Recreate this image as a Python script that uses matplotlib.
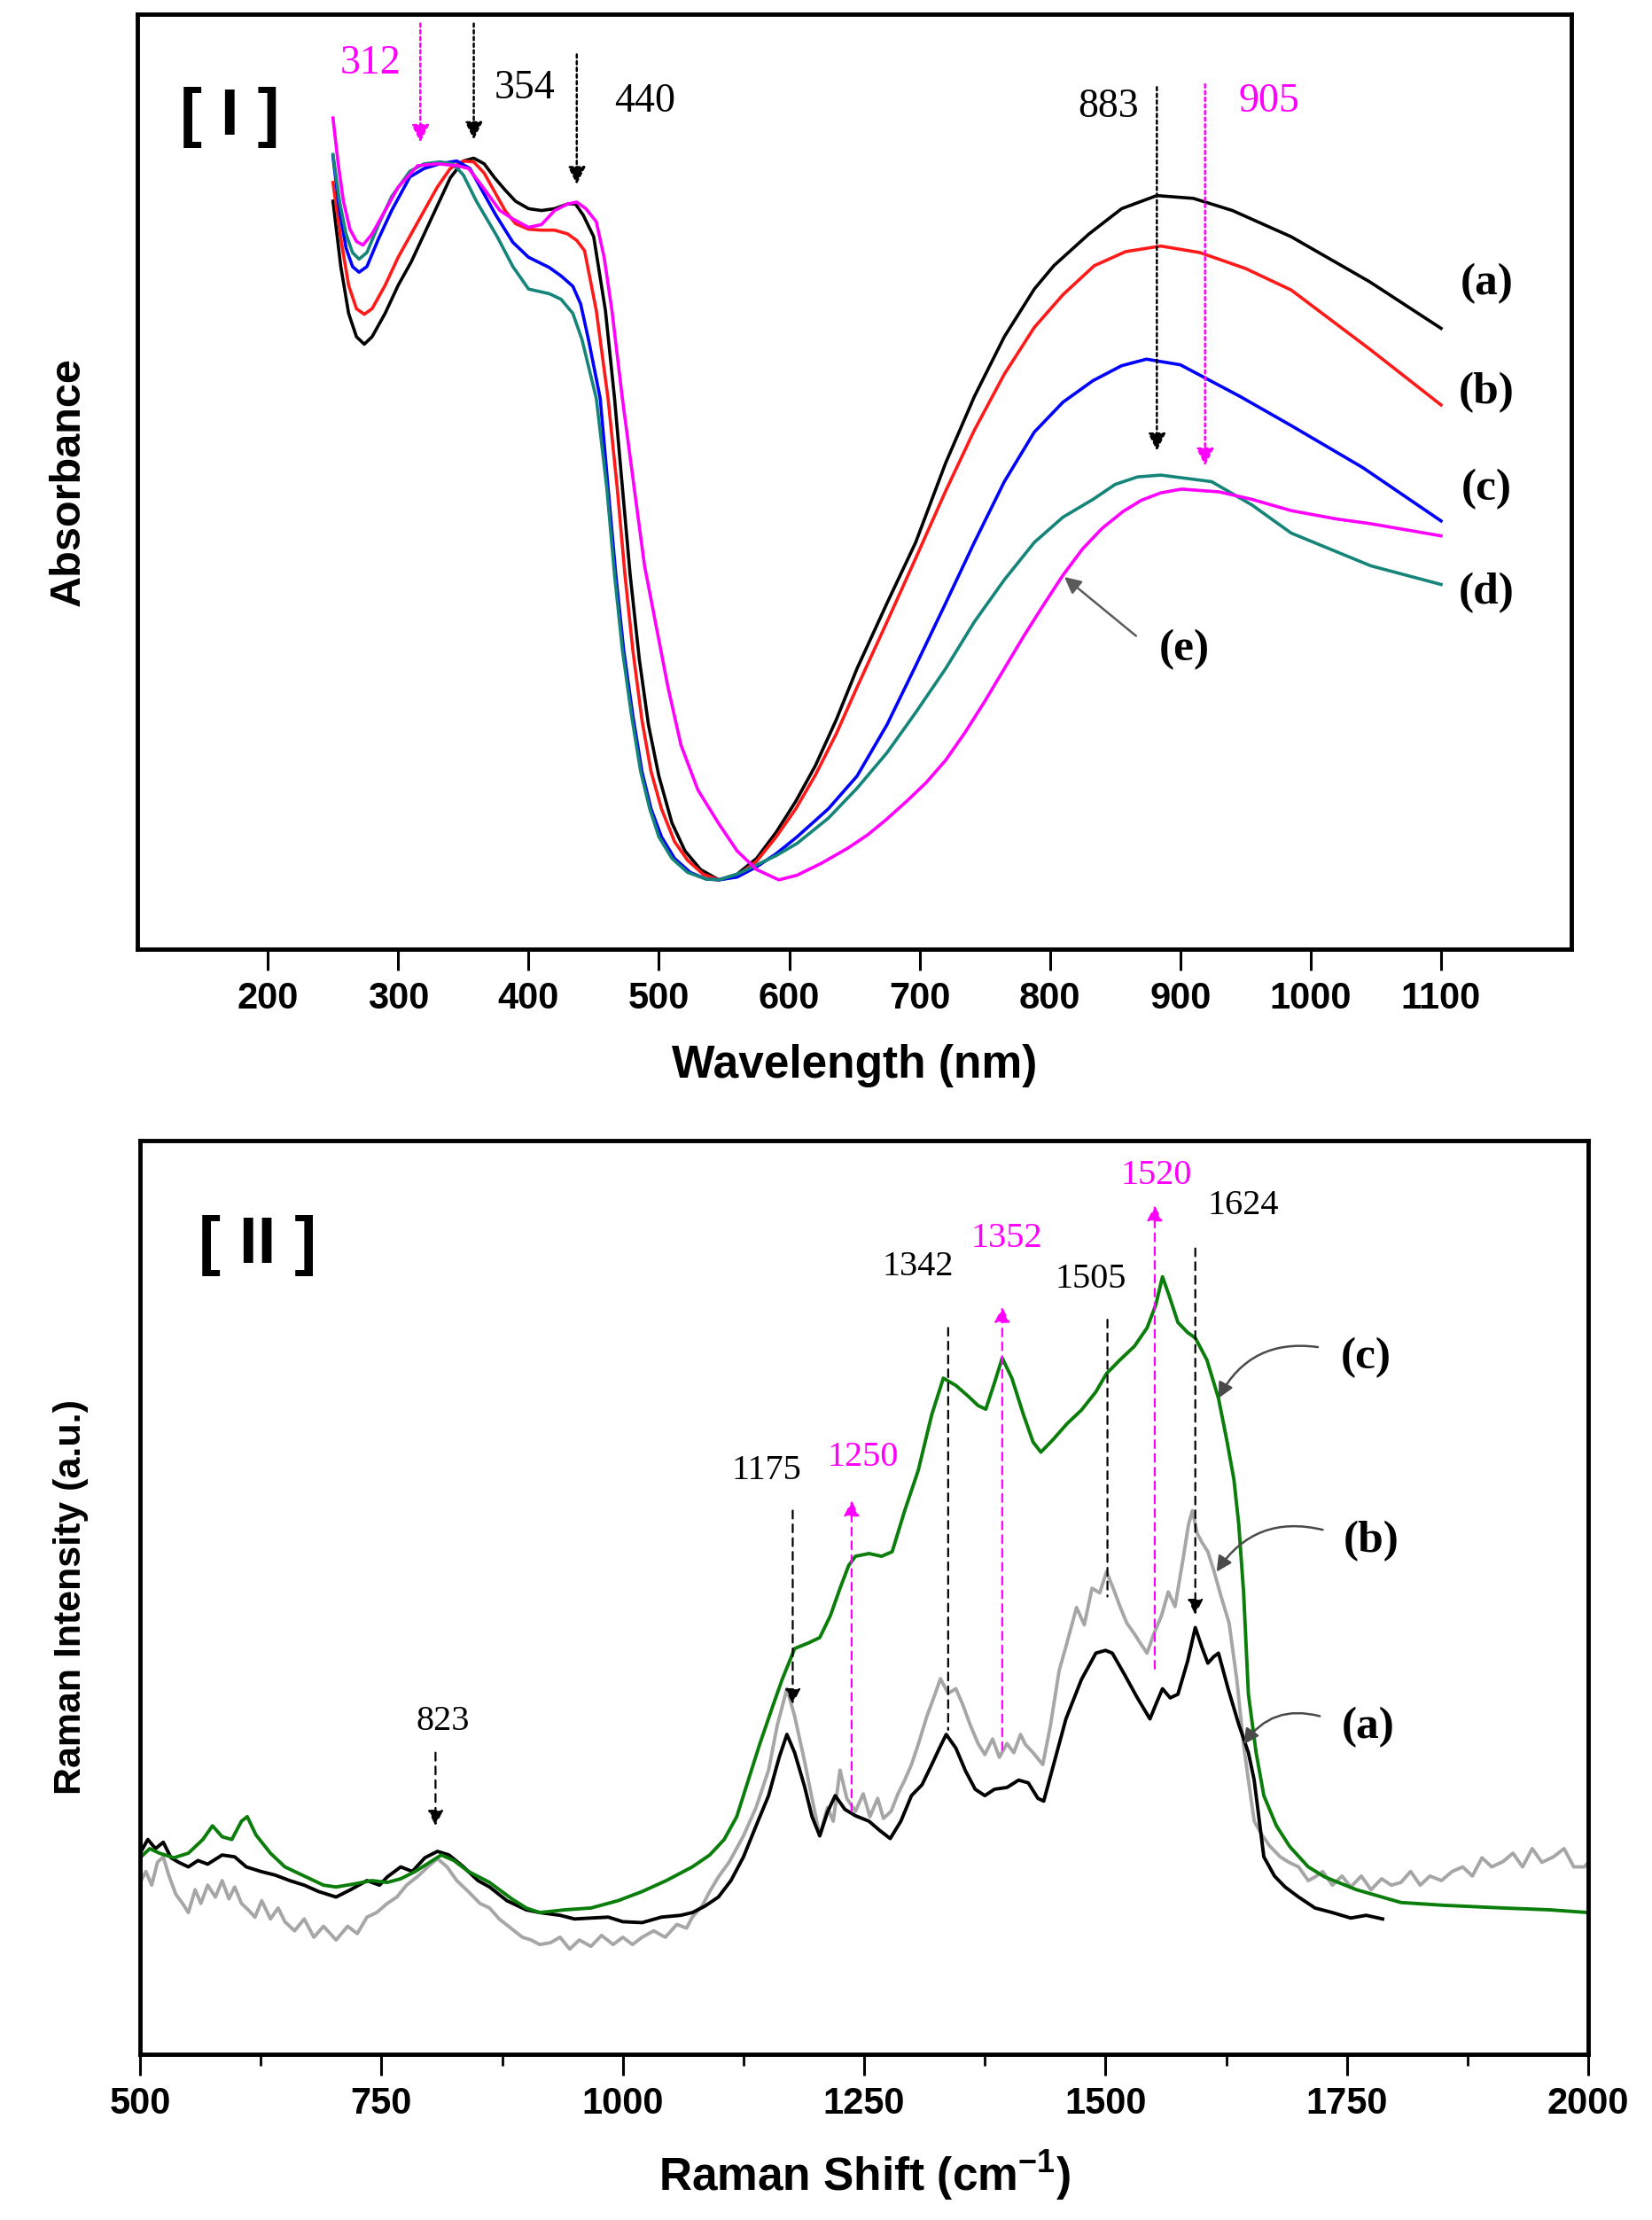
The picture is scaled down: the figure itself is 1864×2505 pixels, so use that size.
import matplotlib
matplotlib.use("Agg")
import matplotlib.pyplot as plt

plt.rcParams['font.family'] = ['Liberation Sans', 'DejaVu Sans']
plt.rcParams['mathtext.fontset'] = 'custom'
plt.rcParams['mathtext.bf'] = 'Liberation Sans:bold'
plt.rcParams['mathtext.rm'] = 'Liberation Sans:bold'

# ---------------- panel I : UV-vis absorbance (a.u.) ----------------
wl_a = [250, 256, 262, 268, 274, 280, 290, 300, 310, 320, 330, 340, 350, 358, 366, 374, 382, 390,
        400, 410, 420, 430, 436, 442, 450, 459, 466, 472, 478, 485, 492, 500, 510, 520, 532,
        546, 560, 575, 590, 605, 620, 636, 652, 675, 697, 720, 742, 765, 788, 803, 830, 855, 882,
        910, 940, 985, 1045, 1100]
abs_a = [0.80, 0.73, 0.68, 0.655, 0.647, 0.655, 0.68, 0.71, 0.735, 0.765, 0.795, 0.825, 0.843, 0.846,
         0.84, 0.825, 0.812, 0.80, 0.792, 0.79, 0.792, 0.797, 0.797, 0.785, 0.762, 0.683, 0.589,
         0.494, 0.40, 0.31, 0.24, 0.185, 0.135, 0.105, 0.085, 0.074, 0.08, 0.097, 0.125, 0.158,
         0.196, 0.245, 0.30, 0.37, 0.435, 0.52, 0.591, 0.655, 0.706, 0.731, 0.765, 0.792, 0.806,
         0.803, 0.79, 0.762, 0.714, 0.664]

wl_b = [250, 256, 262, 268, 274, 280, 290, 300, 310, 320, 330, 340, 350, 358, 366, 374, 382, 390,
        400, 410, 420, 430, 437, 443, 452, 461, 468, 474, 480, 487, 494, 502, 512, 522, 534,
        546, 560, 575, 590, 605, 620, 636, 652, 675, 697, 720, 742, 765, 788, 810, 834, 858, 885,
        915, 950, 985, 1046, 1100]
abs_b = [0.82, 0.76, 0.71, 0.685, 0.679, 0.685, 0.71, 0.74, 0.765, 0.79, 0.815, 0.835, 0.843, 0.842,
         0.83, 0.81, 0.79, 0.776, 0.77, 0.769, 0.769, 0.765, 0.758, 0.747, 0.683, 0.589, 0.494,
         0.40, 0.32, 0.245, 0.19, 0.15, 0.115, 0.095, 0.08, 0.074, 0.078, 0.094, 0.12, 0.15, 0.186,
         0.23, 0.28, 0.35, 0.418, 0.49, 0.555, 0.615, 0.665, 0.70, 0.731, 0.746, 0.752, 0.745,
         0.728, 0.705, 0.641, 0.582]

wl_c = [250, 255, 260, 265, 270, 276, 285, 295, 309, 320, 332, 345, 355, 365, 375, 388, 400, 416,
        425, 434, 440, 446, 455, 461, 467, 473, 480, 487, 494, 502, 512, 524, 536, 546, 560,
        575, 590, 606, 630, 652, 675, 697, 720, 742, 765, 788, 810, 833, 855, 874, 900, 946, 985,
        1040, 1100]
abs_c = [0.848, 0.79, 0.75, 0.73, 0.724, 0.73, 0.76, 0.79, 0.826, 0.835, 0.84, 0.843, 0.835, 0.81,
         0.785, 0.756, 0.74, 0.729, 0.72, 0.709, 0.69, 0.652, 0.589, 0.494, 0.40, 0.32, 0.25,
         0.19, 0.15, 0.12, 0.097, 0.082, 0.075, 0.074, 0.077, 0.088, 0.102, 0.12, 0.15, 0.185,
         0.24, 0.303, 0.37, 0.435, 0.50, 0.553, 0.585, 0.608, 0.624, 0.631, 0.625, 0.591, 0.56,
         0.515, 0.458]

wl_d = [250, 255, 260, 265, 270, 276, 285, 295, 309, 320, 332, 342, 350, 360, 376, 388, 400, 416,
        425, 434, 441, 452, 460, 466, 472, 479, 486, 493, 500, 510, 522, 536, 546, 560,
        575, 590, 606, 630, 652, 675, 697, 720, 742, 765, 788, 810, 833, 850, 867, 885, 924, 955,
        985, 1046, 1100]
abs_d = [0.85, 0.80, 0.765, 0.745, 0.738, 0.745, 0.775, 0.805, 0.832, 0.84, 0.842, 0.84, 0.828, 0.80,
         0.762, 0.73, 0.706, 0.701, 0.695, 0.68, 0.652, 0.589, 0.494, 0.40, 0.32, 0.25, 0.19,
         0.15, 0.12, 0.097, 0.082, 0.075, 0.074, 0.08, 0.09, 0.10, 0.113, 0.14, 0.172, 0.21,
         0.253, 0.30, 0.35, 0.395, 0.435, 0.462, 0.481, 0.497, 0.505, 0.507, 0.50, 0.475, 0.445,
         0.41, 0.39]

wl_e = [250, 254, 258, 263, 268, 273, 280, 290, 300, 315, 330, 345, 354, 365, 378, 388, 400, 410,
        420, 430, 437, 444, 452, 458, 464, 472, 481, 489, 498, 507, 517, 530, 546, 560, 575, 592,
        606, 625, 645, 660, 674, 690, 705, 720, 735, 750, 765, 780, 795, 810, 825, 840, 856, 870,
        885, 901, 930, 955, 985, 1020, 1046, 1075, 1100]
abs_e = [0.889, 0.84, 0.80, 0.77, 0.757, 0.753, 0.765, 0.79, 0.815, 0.838, 0.84, 0.838, 0.835, 0.815,
         0.79, 0.781, 0.772, 0.775, 0.79, 0.797, 0.799, 0.792, 0.778, 0.74, 0.683, 0.589, 0.494,
         0.41, 0.345, 0.28, 0.218, 0.17, 0.134, 0.105, 0.085, 0.074, 0.079, 0.092, 0.108, 0.122,
         0.138, 0.158, 0.178, 0.202, 0.232, 0.265, 0.30, 0.335, 0.368, 0.40, 0.428, 0.45, 0.468,
         0.48, 0.488, 0.492, 0.489, 0.481, 0.469, 0.46, 0.455, 0.448, 0.442]

uv_labels = ['(a)', '(b)', '(c)', '(d)', '(e)']
uv_colors = ['black', '#ff1a1a', '#0000ff', '#15857a', '#ff00ff']

uv_peaks = ['312', '354', '440', '883', '905']
uv_peak_x = [317, 358, 437, 882, 919]

# ---------------- panel II : Raman spectra (a.u.) ----------------
rs_c = [500, 510, 520, 535, 550, 565, 575, 585, 595, 605, 611, 620, 635, 650, 670, 690, 703, 720,
        740, 756, 770, 785, 800, 812, 825, 840, 862, 885, 900, 914, 940, 967, 995, 1020, 1045, 1072,
        1090, 1105, 1118, 1130, 1142, 1155, 1165, 1178, 1192, 1204, 1215, 1225, 1234, 1241, 1255,
        1268, 1279, 1292, 1306, 1320, 1332, 1345, 1358, 1368, 1376, 1385, 1393, 1403, 1415, 1425,
        1433, 1445, 1460, 1475, 1490, 1501, 1515, 1530, 1543, 1552, 1559, 1566, 1575, 1585, 1593,
        1605, 1617, 1626, 1633, 1638, 1643, 1648, 1656, 1664, 1677, 1691, 1710, 1727, 1760, 1806,
        1850, 1912, 1960, 2000]
int_c = [0.215, 0.225, 0.22, 0.215, 0.22, 0.235, 0.25, 0.238, 0.235, 0.255, 0.26, 0.24, 0.22, 0.205,
         0.195, 0.185, 0.183, 0.186, 0.19, 0.188, 0.192, 0.2, 0.21, 0.218, 0.212, 0.2, 0.188, 0.17,
         0.16, 0.155, 0.158, 0.16, 0.168, 0.178, 0.19, 0.205, 0.218, 0.235, 0.26, 0.30, 0.34, 0.38,
         0.41, 0.444, 0.45, 0.456, 0.48, 0.51, 0.535, 0.545, 0.548, 0.545, 0.55, 0.595, 0.639, 0.70,
         0.74, 0.732, 0.72, 0.71, 0.706, 0.735, 0.762, 0.74, 0.70, 0.67, 0.659, 0.672, 0.69, 0.705,
         0.725, 0.745, 0.76, 0.775, 0.795, 0.82, 0.851, 0.83, 0.801, 0.79, 0.784, 0.76, 0.718, 0.67,
         0.629, 0.58, 0.506, 0.394, 0.33, 0.283, 0.25, 0.227, 0.205, 0.194, 0.18, 0.166, 0.163, 0.16,
         0.158, 0.155]

rs_a = [500, 508, 516, 524, 532, 540, 550, 560, 570, 585, 598, 610, 625, 640, 655, 670, 685, 703,
        718, 735, 748, 756, 770, 782, 795, 808, 820, 835, 850, 862, 880, 900, 914, 935, 950, 967,
        985, 1000, 1020, 1040, 1060, 1072, 1085, 1099, 1112, 1125, 1140, 1151, 1162, 1170, 1178,
        1188, 1196, 1204, 1212, 1220, 1230, 1241, 1255, 1266, 1277, 1288, 1299, 1310, 1320, 1328,
        1335, 1345, 1355, 1365, 1375, 1385, 1398, 1410, 1420, 1430, 1436, 1447, 1459, 1475, 1490,
        1500, 1507, 1520, 1533, 1546, 1553, 1559, 1567, 1575, 1585, 1593, 1600, 1606, 1612, 1617,
        1627, 1638, 1648, 1654, 1664, 1675, 1686, 1700, 1717, 1735, 1754, 1770, 1787]
int_a = [0.22, 0.235, 0.225, 0.232, 0.215, 0.21, 0.205, 0.212, 0.208, 0.218, 0.216, 0.205, 0.2,
         0.196, 0.19, 0.185, 0.178, 0.172, 0.18, 0.19, 0.185, 0.194, 0.205, 0.2, 0.215, 0.222, 0.218,
         0.205, 0.19, 0.183, 0.168, 0.158, 0.155, 0.152, 0.148, 0.149, 0.15, 0.145, 0.144, 0.15,
         0.152, 0.155, 0.162, 0.172, 0.19, 0.216, 0.255, 0.283, 0.325, 0.35, 0.33, 0.294, 0.26,
         0.239, 0.265, 0.283, 0.268, 0.261, 0.255, 0.245, 0.236, 0.255, 0.283, 0.295, 0.317, 0.335,
         0.35, 0.335, 0.31, 0.29, 0.283, 0.29, 0.292, 0.30, 0.297, 0.28, 0.277, 0.32, 0.367, 0.41,
         0.439, 0.442, 0.439, 0.415, 0.39, 0.367, 0.385, 0.40, 0.39, 0.394, 0.43, 0.467, 0.445,
         0.428, 0.435, 0.439, 0.40, 0.361, 0.33, 0.30, 0.216, 0.195, 0.183, 0.172, 0.16, 0.155,
         0.149, 0.152, 0.148]

rs_b = [500, 506, 512, 518, 524, 530, 537, 544, 550, 557, 563, 570, 578, 585, 592, 598, 605, 612,
        619, 626, 635, 643, 650, 660, 670, 680, 690, 703, 715, 725, 735, 745, 756, 766, 776, 788,
        798, 808, 818, 828, 840, 852, 862, 872, 884, 896, 905, 914, 925, 935, 945, 955, 967, 978,
        990, 1000, 1010, 1020, 1032, 1044, 1056, 1066, 1072, 1082, 1090, 1099, 1110, 1125, 1138,
        1151, 1160, 1170, 1178, 1188, 1196, 1204, 1212, 1218, 1225, 1232, 1241, 1249, 1256, 1264,
        1270, 1278, 1285, 1292, 1299, 1306, 1315, 1322, 1329, 1337, 1345, 1352, 1360, 1368, 1375,
        1383, 1390, 1398, 1405, 1412, 1417, 1425, 1435, 1443, 1452, 1460, 1470, 1478, 1486, 1494,
        1501, 1508, 1515, 1522, 1530, 1536, 1543, 1550, 1558, 1565, 1572, 1580, 1586, 1590, 1595,
        1600, 1606, 1612, 1620, 1628, 1636, 1643, 1648, 1654, 1662, 1670, 1681, 1690, 1700, 1710,
        1717, 1725, 1735, 1745, 1754, 1765, 1775, 1786, 1796, 1806, 1816, 1826, 1836, 1848, 1859,
        1870, 1880, 1890, 1900, 1912, 1922, 1932, 1942, 1952, 1964, 1975, 1985, 1996, 2000]
int_b = [0.188, 0.2, 0.185, 0.21, 0.216, 0.195, 0.175, 0.165, 0.155, 0.18, 0.165, 0.185, 0.172,
         0.19, 0.17, 0.183, 0.165, 0.158, 0.15, 0.168, 0.148, 0.16, 0.145, 0.135, 0.148, 0.128,
         0.14, 0.125, 0.14, 0.132, 0.15, 0.155, 0.165, 0.172, 0.185, 0.195, 0.205, 0.214, 0.205,
         0.19, 0.178, 0.165, 0.16, 0.148, 0.138, 0.128, 0.125, 0.12, 0.122, 0.128, 0.115, 0.125,
         0.118, 0.13, 0.12, 0.128, 0.12, 0.128, 0.135, 0.128, 0.142, 0.138, 0.15, 0.162, 0.178,
         0.194, 0.21, 0.239, 0.27, 0.311, 0.36, 0.40, 0.37, 0.322, 0.28, 0.239, 0.27, 0.255, 0.311,
         0.28, 0.266, 0.285, 0.26, 0.28, 0.258, 0.266, 0.285, 0.30, 0.317, 0.339, 0.37, 0.39, 0.411,
         0.395, 0.40, 0.383, 0.36, 0.34, 0.328, 0.345, 0.325, 0.34, 0.33, 0.35, 0.339, 0.33, 0.317,
         0.36, 0.42, 0.45, 0.489, 0.47, 0.51, 0.505, 0.528, 0.51, 0.49, 0.472, 0.46, 0.45, 0.439,
         0.46, 0.48, 0.506, 0.49, 0.54, 0.58, 0.595, 0.57, 0.56, 0.55, 0.53, 0.50, 0.472, 0.41,
         0.339, 0.30, 0.255, 0.24, 0.228, 0.216, 0.21, 0.205, 0.19, 0.194, 0.2, 0.185, 0.195, 0.183,
         0.195, 0.18, 0.192, 0.185, 0.188, 0.2, 0.185, 0.195, 0.19, 0.2, 0.205, 0.195, 0.215, 0.205,
         0.211, 0.22, 0.205, 0.225, 0.21, 0.216, 0.225, 0.205, 0.205, 0.21]

raman_labels = ['(a)', '(b)', '(c)']
raman_colors = ['black', '#a6a6a6', '#0a7d0a']

raman_peaks = ['823', '1175', '1250', '1342', '1352', '1505', '1520', '1624']
raman_peak_x = [806, 1176, 1237, 1337, 1393, 1502, 1551, 1593]
raman_peak_new = [False, False, True, False, True, False, True, False]

magenta = '#ff00ff'
serif = ['Liberation Serif', 'DejaVu Serif']

fig = plt.figure(figsize=(18.64, 25.05), dpi=100)


def style_axes(ax):
    for sp in ax.spines.values():
        sp.set_linewidth(3.5)
    ax.tick_params(axis='x', which='major', direction='out', length=17, width=2.2, pad=9,
                   labelsize=30, top=False)
    ax.tick_params(axis='x', which='minor', direction='out', length=9.5, width=2.0, top=False)
    ax.tick_params(axis='y', left=False, right=False, labelleft=False)
    for lab in ax.get_xticklabels():
        lab.set_fontweight('bold')


# ================= panel I =================
ax1 = fig.add_axes([0.0832, 0.5725, 0.868, 0.4211])
uv_x = [wl_a, wl_b, wl_c, wl_d, wl_e]
uv_y = [abs_a, abs_b, abs_c, abs_d, abs_e]
for xs, ys, col in zip(uv_x, uv_y, uv_colors):
    ax1.plot(xs, ys, color=col, lw=2.6, solid_joinstyle='round')
ax1.set_xlim(100, 1200)
ax1.set_ylim(0, 1)
ax1.set_xticks(range(200, 1101, 100))
style_axes(ax1)
ax1.set_xlabel('Wavelength (nm)', fontsize=37, fontweight='bold', labelpad=22)
ax1.set_ylabel('Absorbance', fontsize=35, fontweight='bold', labelpad=40)

ax1.text(171, 0.89, '[ I ]', fontsize=54, fontweight='bold', ha='center', va='center')

# peak arrows (dotted)
uv_arrow_y = [(0.99, 0.863), (0.99, 0.866), (0.957, 0.818), (0.922, 0.533), (0.925, 0.517)]
uv_text_xy = [(279, 0.947), (397, 0.921), (489, 0.906), (845, 0.901), (968, 0.906)]
uv_arrow_col = [magenta, 'black', 'black', 'black', magenta]
for lab, px, (y0, y1), (tx, ty), col in zip(uv_peaks, uv_peak_x, uv_arrow_y, uv_text_xy, uv_arrow_col):
    ax1.annotate('', xy=(px, y1), xytext=(px, y0),
                 arrowprops=dict(arrowstyle='-|>', linestyle=(0, (1.5, 1.5)), lw=1.8, color=col,
                                 mutation_scale=30, shrinkA=0, shrinkB=0))
    ax1.text(tx, ty, lab, fontsize=33, color=col, ha='center', va='center', family=serif)

uv_label_y = [0.712, 0.595, 0.492, 0.381]
for lab, ly in zip(uv_labels[:4], uv_label_y):
    ax1.text(1135, ly, lab, fontsize=37, fontweight='bold', ha='center', va='center', family=serif)
ax1.text(903, 0.32, uv_labels[4], fontsize=37, fontweight='bold', ha='center', va='center', family=serif)
ax1.annotate('', xy=(811, 0.398), xytext=(866, 0.335),
             arrowprops=dict(arrowstyle='-|>', lw=1.8, color='#5a5a5a', mutation_scale=28,
                             shrinkA=0, shrinkB=0))

# ================= panel II =================
ax2 = fig.add_axes([0.0848, 0.0747, 0.8766, 0.4115])
for xs, ys, col in zip([rs_b, rs_a, rs_c], [int_b, int_a, int_c],
                       [raman_colors[1], raman_colors[0], raman_colors[2]]):
    ax2.plot(xs, ys, color=col, lw=2.8)
ax2.set_xlim(500, 2000)
ax2.set_ylim(0, 1)
ax2.set_xticks(range(500, 2001, 250))
ax2.set_xticks(range(625, 2000, 250), minor=True)
style_axes(ax2)
ax2.set_xlabel(r'Raman Shift (cm$\mathbf{^{-1}}$)', fontsize=37, fontweight='bold', labelpad=22)
ax2.set_ylabel('Raman Intensity (a.u.)', fontsize=31, fontweight='bold', labelpad=42)

ax2.text(622, 0.885, '[ II ]', fontsize=54, fontweight='bold', ha='center', va='center')

raman_arrow_y = [(0.330, 0.250), (0.595, 0.383), (0.266, 0.606), (0.795, 0.355),
                 (0.333, 0.818), (0.804, 0.501), (0.422, 0.929), (0.882, 0.481)]
raman_text_xy = [(814, 0.364), (1149, 0.639), (1249, 0.653), (1306, 0.862),
                 (1398, 0.893), (1485, 0.848), (1553, 0.962), (1643, 0.929)]
raman_head = [True, True, True, False, True, False, True, True]
for lab, px, (y0, y1), (tx, ty), new, head in zip(raman_peaks, raman_peak_x, raman_arrow_y,
                                                  raman_text_xy, raman_peak_new, raman_head):
    col = magenta if new else 'black'
    ax2.annotate('', xy=(px, y1), xytext=(px, y0),
                 arrowprops=dict(arrowstyle='-|>' if head else '-', linestyle=(0, (4, 3)), lw=1.6,
                                 color=col, mutation_scale=26, shrinkA=0, shrinkB=0))
    ax2.text(tx, ty, lab, fontsize=29, color=col, ha='center', va='center', family=serif)

raman_label_xy = [(1772, 0.358), (1775, 0.562), (1770, 0.762)]
raman_tip_xy = [(1643, 0.339), (1615, 0.528), (1617, 0.718)]
for lab, (lx, ly), tip in zip(raman_labels, raman_label_xy, raman_tip_xy):
    ax2.text(lx, ly, lab, fontsize=37, fontweight='bold', ha='center', va='center', family=serif)
    ax2.annotate('', xy=tip, xytext=(lx - 50, ly + 0.012),
                 arrowprops=dict(arrowstyle='-|>', lw=1.8, color='#4a4a4a', mutation_scale=26,
                                 shrinkA=0, shrinkB=0, connectionstyle='arc3,rad=0.35'))

fig.savefig('out.png', dpi=100)
